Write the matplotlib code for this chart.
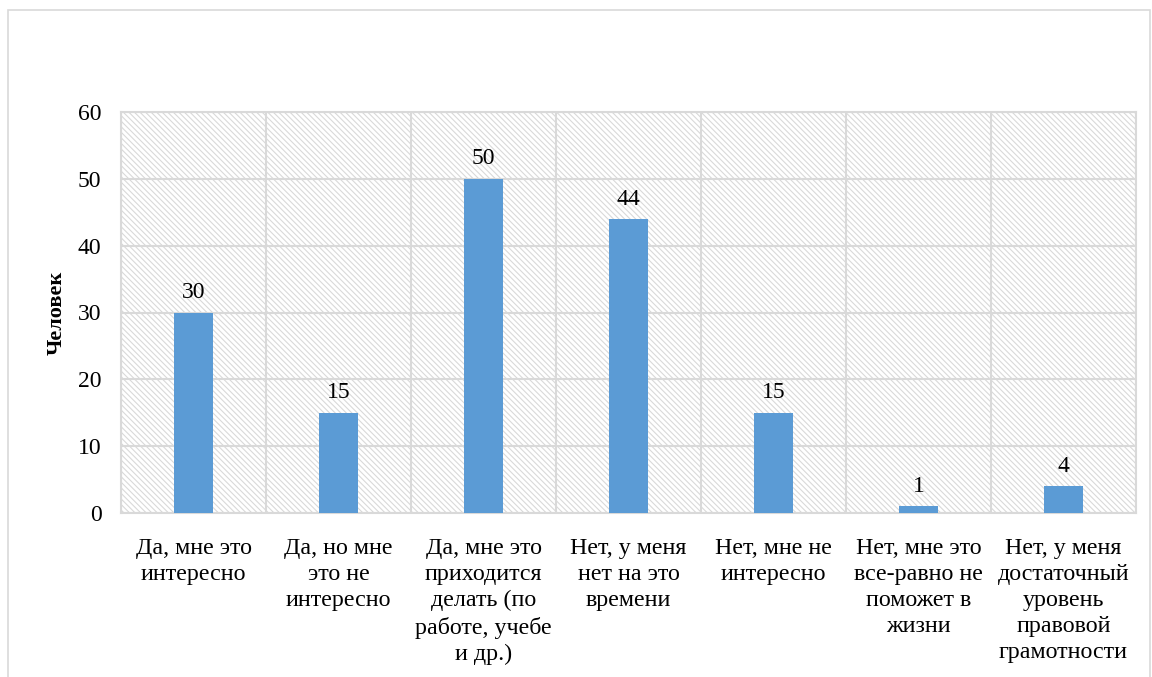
import matplotlib.pyplot as plt
import matplotlib.patches as mpatches
import numpy as np

plt.rcParams['font.family'] = ['Liberation Serif', 'DejaVu Serif']
plt.rcParams['hatch.color'] = '#d9d9d9'
plt.rcParams['hatch.linewidth'] = 0.8

labels = ['Да, мне это\nинтересно',
          'Да, но мне\nэто не\nинтересно',
          'Да, мне это\nприходится\nделать (по\nработе, учебе\nи др.)',
          'Нет, у меня\nнет на это\nвремени',
          'Нет, мне не\nинтересно',
          'Нет, мне это\nвсе-равно не\nпоможет в\nжизни',
          'Нет, у меня\nдостаточный\nуровень\nправовой\nграмотности']
values = [30, 15, 50, 44, 15, 1, 4]

fig = plt.figure(figsize=(11.52, 6.77), dpi=100)
fig.patches.append(mpatches.Rectangle((8/1152, -0.01), 1142/1152, 1 - 10/677 + 0.01,
                                      transform=fig.transFigure, fill=False,
                                      edgecolor='#d9d9d9', linewidth=1.2))
ax = fig.add_axes([121/1152, 1 - 513/677, (1136 - 121)/1152, (513 - 112)/677])
ax.patch.set_facecolor('white')
ax.patch.set_hatch('\\\\\\\\\\\\')
ax.patch.set_edgecolor('#d9d9d9')

x = np.arange(len(values))
ax.bar(x, values, width=0.27, color='#5B9BD5', zorder=3)
for xi, v in zip(x, values):
    ax.text(xi, v + 1.4, str(v), ha='center', va='bottom', fontsize=17)

ax.set_xlim(-0.5, len(values) - 0.5)
ax.set_ylim(0, 60)
ax.set_yticks(np.arange(0, 61, 10))
ax.set_xticks(x)
ax.set_xticklabels(labels, fontsize=17.3, linespacing=1.32)
ax.tick_params(axis='y', labelsize=17, length=0, pad=14)
ax.tick_params(axis='x', length=0, pad=18)
ax.set_xticks(np.arange(-0.5, len(values), 1), minor=True)
ax.tick_params(axis='x', which='minor', length=0)
ax.grid(axis='y', which='major', color='#d9d9d9', linewidth=1.5, zorder=1)
ax.grid(axis='x', which='minor', color='#d9d9d9', linewidth=1.5, zorder=1)
for s in ax.spines.values():
    s.set_color('#d9d9d9')
    s.set_linewidth(1.5)
ax.set_ylabel('Человек', fontsize=16, fontweight='bold', labelpad=8)

fig.savefig('out.png', dpi=100)
